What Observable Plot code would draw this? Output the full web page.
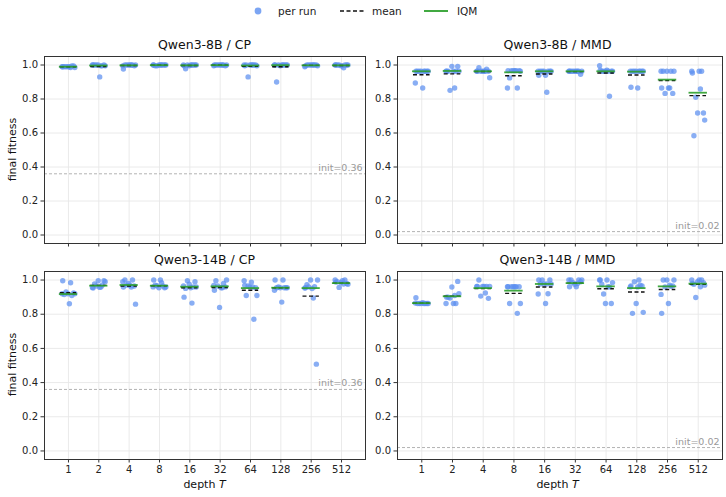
<!DOCTYPE html>
<html>
<head>
<meta charset="utf-8">
<script src="https://cdn.jsdelivr.net/npm/d3@7"></script>
<script src="https://cdn.jsdelivr.net/npm/@observablehq/plot@0.6"></script>
<style>
  body { margin: 0; background: white; font-family: "DejaVu Sans", sans-serif; }
  #root { position: relative; width: 726px; height: 497px; overflow: hidden; background: white; }
  .abs { position: absolute; }
  .title { position: absolute; font-size: 12.5px; color: #111; text-align: center; width: 321px; }
  .xlab { position: absolute; font-size: 11px; color: #111; text-align: center; width: 321px; }
  .ylab { position: absolute; font-size: 11px; color: #111; text-align: center; width: 188px; transform: rotate(-90deg); transform-origin: center center; }
</style>
</head>
<body>
<div id="root"></div>
<script>
// ---------- data ----------
const depths = [1, 2, 4, 8, 16, 32, 64, 128, 256, 512];
const yTicks = [0, 0.2, 0.4, 0.6, 0.8, 1.0];

// Qwen3-8B / CP
const runs8B_CP = [
  [0.99, 0.985, 0.99, 0.995, 0.99, 0.985, 0.99, 0.995, 0.99, 0.99],
  [1, 1, 0.995, 1, 0.995, 1, 0.93, 1, 0.995, 1],
  [1, 1, 0.995, 1, 0.976, 1, 1, 0.995, 1, 1],
  [1, 1, 1, 0.995, 1, 1, 1, 0.995, 1, 1],
  [1, 1, 0.995, 1, 0.978, 1, 1, 1, 0.995, 1],
  [1, 1, 1, 0.995, 1, 1, 1, 1, 0.995, 1],
  [1, 1, 0.995, 1, 0.93, 1, 1, 0.995, 1, 1],
  [1, 1, 1, 0.995, 1, 0.90, 1, 1, 1, 1],
  [1, 0.995, 1, 1, 0.99, 1, 0.995, 1, 1, 1],
  [1, 1, 0.995, 1, 0.984, 1, 1, 0.995, 1, 1]
];
const mean8B_CP = [0.99, 0.991, 0.997, 0.999, 0.997, 0.999, 0.992, 0.99, 0.998, 0.997];
const iqm8B_CP  = [0.99, 0.997, 0.998, 0.999, 0.998, 0.999, 0.997, 0.999, 0.998, 0.998];

// Qwen3-8B / MMD
const runs8B_MMD = [
  [0.963, 0.963, 0.963, 0.963, 0.963, 0.963, 0.963, 0.963, 0.894, 0.865],
  [0.992, 0.992, 0.963, 0.963, 0.963, 0.963, 0.963, 0.963, 0.865, 0.851],
  [0.984, 0.975, 0.963, 0.963, 0.963, 0.963, 0.963, 0.963, 0.963, 0.925],
  [0.967, 0.967, 0.967, 0.967, 0.967, 0.967, 0.963, 0.924, 0.865, 0.865],
  [0.963, 0.963, 0.963, 0.963, 0.963, 0.963, 0.963, 0.94, 0.94, 0.84],
  [0.963, 0.963, 0.963, 0.963, 0.963, 0.963, 0.963, 0.963, 0.945, 0.963],
  [0.996, 0.969, 0.969, 0.963, 0.963, 0.963, 0.963, 0.963, 0.963, 0.816],
  [0.963, 0.963, 0.963, 0.963, 0.963, 0.963, 0.963, 0.963, 0.865, 0.869],
  [0.963, 0.963, 0.963, 0.963, 0.963, 0.865, 0.865, 0.865, 0.833, 0.833],
  [0.963, 0.963, 0.963, 0.953, 0.859, 0.81, 0.718, 0.718, 0.676, 0.584]
];
const mean8B_MMD = [0.943, 0.948, 0.962, 0.937, 0.947, 0.961, 0.953, 0.941, 0.908, 0.82];
const iqm8B_MMD  = [0.963, 0.965, 0.963, 0.957, 0.963, 0.963, 0.963, 0.961, 0.914, 0.837];

// Qwen3-14B / CP
const runs14B_CP = [
  [0.996, 0.984, 0.93, 0.925, 0.92, 0.92, 0.915, 0.91, 0.92, 0.861],
  [0.996, 0.996, 0.99, 0.977, 0.97, 0.957, 0.957, 0.953, 0.96, 0.965],
  [1, 1, 0.99, 0.969, 0.959, 0.959, 0.97, 0.965, 0.98, 0.859],
  [1, 1, 0.984, 0.967, 0.955, 0.955, 0.96, 0.97, 0.965, 0.96],
  [0.996, 0.99, 0.975, 0.959, 0.951, 0.96, 0.965, 0.955, 0.9, 0.865],
  [1, 0.996, 0.98, 0.969, 0.955, 0.94, 0.955, 0.965, 0.96, 0.84],
  [0.996, 0.988, 0.969, 0.959, 0.965, 0.955, 0.96, 0.91, 0.91, 0.771],
  [1, 0.959, 0.955, 0.955, 0.955, 0.955, 0.955, 0.94, 0.871, 1],
  [1, 1, 0.973, 0.961, 0.953, 0.95, 0.955, 0.895, 0.96, 0.508],
  [1, 1, 0.996, 0.988, 0.977, 0.957, 0.98, 0.985, 0.975, 0.99]
];
const mean14B_CP = [0.926, 0.969, 0.965, 0.967, 0.955, 0.956, 0.94, 0.955, 0.906, 0.982];
const iqm14B_CP  = [0.918, 0.967, 0.971, 0.967, 0.961, 0.963, 0.953, 0.955, 0.953, 0.982];

// Qwen3-14B / MMD
const runs14B_MMD = [
  [0.896, 0.863, 0.863, 0.863, 0.863, 0.863, 0.863, 0.863, 0.865, 0.868],
  [0.992, 0.959, 0.92, 0.9, 0.863, 0.863, 0.863, 0.9, 0.91, 0.895],
  [1, 0.963, 0.963, 0.963, 0.963, 0.924, 0.906, 0.893, 0.963, 0.963],
  [0.961, 0.961, 0.961, 0.961, 0.961, 0.961, 0.863, 0.863, 0.805, 0.961],
  [1, 1, 0.977, 0.977, 0.977, 0.92, 0.918, 0.863, 1, 0.977],
  [1, 1, 1, 1, 0.961, 0.961, 0.98, 0.985, 0.99, 0.975],
  [1, 1, 1, 0.961, 0.918, 0.863, 0.863, 0.985, 0.975, 0.96],
  [1, 0.99, 0.966, 0.863, 0.811, 0.805, 0.97, 0.96, 0.96, 0.966],
  [1, 1, 1, 0.963, 0.916, 0.863, 0.805, 0.97, 0.96, 0.966],
  [1, 1, 1, 0.98, 0.961, 0.898, 0.985, 0.99, 0.97, 0.975]
];
const mean14B_MMD = [0.865, 0.906, 0.95, 0.922, 0.959, 0.982, 0.949, 0.93, 0.945, 0.975];
const iqm14B_MMD  = [0.865, 0.905, 0.953, 0.938, 0.977, 0.982, 0.963, 0.953, 0.963, 0.979];

const titles = ["Qwen3-8B / CP", "Qwen3-8B / MMD", "Qwen3-14B / CP", "Qwen3-14B / MMD"];
const inits = [0.36, 0.02, 0.36, 0.02];

// ---------- style constants ----------
const SPREAD = [-0.19, 0.07, -0.08, 0.17, -0.02, 0.21, -0.14, 0.11, -0.21, 0.03];
const DOT = "#5b8ff0";
const GREEN = "#2ca02c";

function panel({runs, mean, iqm, init, bottom, width, marginLeft, marginRight, marginTop, marginBottom, height}) {
  const pts = runs.flatMap((vals, i) => vals.map((v, j) => ({x: i + SPREAD[(j + 3 * i) % 10], y: v})));
  const stats = depths.map((d, i) => ({i, mean: mean[i], iqm: iqm[i]}));
  const idx = d3.range(depths.length);
  return Plot.plot({
    width, height, marginLeft, marginRight, marginTop, marginBottom,
    x: {domain: [-0.79, depths.length - 1 + 0.79]},
    y: {domain: [-0.05, 1.05]},
    style: {fontFamily: "DejaVu Sans", fontSize: "10px", color: "#222", background: "transparent", overflow: "visible"},
    marks: [
      Plot.gridX(idx, {stroke: "#e8e8e8", strokeOpacity: 1, strokeWidth: 0.9}),
      Plot.gridY(yTicks, {stroke: "#e8e8e8", strokeOpacity: 1, strokeWidth: 0.9}),
      Plot.ruleY([init], {stroke: "#aaaaaa", strokeWidth: 0.9, strokeDasharray: "3,2"}),
      Plot.text([`init=${init.toFixed(2)}`], {y: init, frameAnchor: "right", textAnchor: "end", dx: -3, dy: -6, fill: "#999999", fontSize: 9.5}),
      Plot.dot(pts, {x: "x", y: "y", r: 2.7, fill: DOT, fillOpacity: 0.72, stroke: "none"}),
      Plot.ruleY(stats, {y: "mean", x1: d => d.i - 0.27, x2: d => d.i + 0.27, stroke: "#111", strokeWidth: 1.4, strokeDasharray: "4,2.5"}),
      Plot.ruleY(stats, {y: "iqm", x1: d => d.i - 0.3, x2: d => d.i + 0.3, stroke: GREEN, strokeWidth: 1.8, strokeOpacity: 0.9}),
      Plot.axisX(idx, {tickSize: 3.5, tickPadding: 3, tickFormat: bottom ? (i => String(depths[i])) : (() => ""), label: null, stroke: "#333"}),
      Plot.axisY(yTicks, {tickSize: 3.5, tickPadding: 3, tickFormat: d3.format(".1f"), label: null, stroke: "#333"}),
      Plot.frame({stroke: "#333", strokeWidth: 1})
    ]
  });
}

const root = document.getElementById("root");

// legend
const leg = document.createElementNS("http://www.w3.org/2000/svg", "svg");
leg.setAttribute("width", 726); leg.setAttribute("height", 26);
leg.setAttribute("class", "abs"); leg.style.left = "0px"; leg.style.top = "0px";
leg.innerHTML = `
  <circle cx="258" cy="11" r="3.4" fill="${DOT}" fill-opacity="0.8"></circle>
  <text x="278" y="15" font-family="DejaVu Sans" font-size="10.5" fill="#222">per run</text>
  <line x1="340" x2="364" y1="11" y2="11" stroke="#111" stroke-width="1.4" stroke-dasharray="4,2.5"></line>
  <text x="372" y="15" font-family="DejaVu Sans" font-size="10.5" fill="#222">mean</text>
  <line x1="424" x2="448" y1="11" y2="11" stroke="${GREEN}" stroke-width="1.8"></line>
  <text x="457" y="15" font-family="DejaVu Sans" font-size="10.5" fill="#222">IQM</text>`;
root.appendChild(leg);

const allRuns = [runs8B_CP, runs8B_MMD, runs14B_CP, runs14B_MMD];
const allMean = [mean8B_CP, mean8B_MMD, mean14B_CP, mean14B_MMD];
const allIqm = [iqm8B_CP, iqm8B_MMD, iqm14B_CP, iqm14B_MMD];

const layout = [
  {left: 0,   top: 50,  svgW: 367, mL: 44, mR: 2, mT: 6, mB: 8,  h: 201, frameL: 44,  titleTop: 37,  bottom: false, isLeft: true},
  {left: 367, top: 50,  svgW: 359, mL: 30, mR: 4, mT: 6, mB: 8,  h: 201, frameL: 397, titleTop: 37,  bottom: false, isLeft: false},
  {left: 0,   top: 265, svgW: 367, mL: 44, mR: 2, mT: 6, mB: 32, h: 226, frameL: 44,  titleTop: 252, bottom: true,  isLeft: true},
  {left: 367, top: 265, svgW: 359, mL: 30, mR: 4, mT: 6, mB: 32, h: 226, frameL: 397, titleTop: 252, bottom: true,  isLeft: false}
];

layout.forEach((L, k) => {
  const chart = panel({
    runs: allRuns[k], mean: allMean[k], iqm: allIqm[k], init: inits[k],
    bottom: L.bottom, width: L.svgW, height: L.h,
    marginLeft: L.mL, marginRight: L.mR, marginTop: L.mT, marginBottom: L.mB
  });
  chart.setAttribute("class", "abs");
  chart.style.left = L.left + "px";
  chart.style.top = L.top + "px";
  root.appendChild(chart);

  const t = document.createElement("div");
  t.className = "title";
  t.textContent = titles[k];
  t.style.left = L.frameL + "px";
  t.style.top = L.titleTop + "px";
  root.appendChild(t);

  if (L.isLeft) {
    const yl = document.createElement("div");
    yl.className = "ylab";
    yl.textContent = "final fitness";
    // centre of the frame: x ≈ 12, y = top + mT + 94
    const cy = L.top + L.mT + 94;
    yl.style.left = (12 - 94) + "px";
    yl.style.top = (cy - 7) + "px";
    root.appendChild(yl);
  }

  if (L.bottom) {
    const xl = document.createElement("div");
    xl.className = "xlab";
    xl.innerHTML = "depth <i>T</i>";
    xl.style.left = L.frameL + "px";
    xl.style.top = "478px";
    root.appendChild(xl);
  }
});
</script>
</body>
</html>
